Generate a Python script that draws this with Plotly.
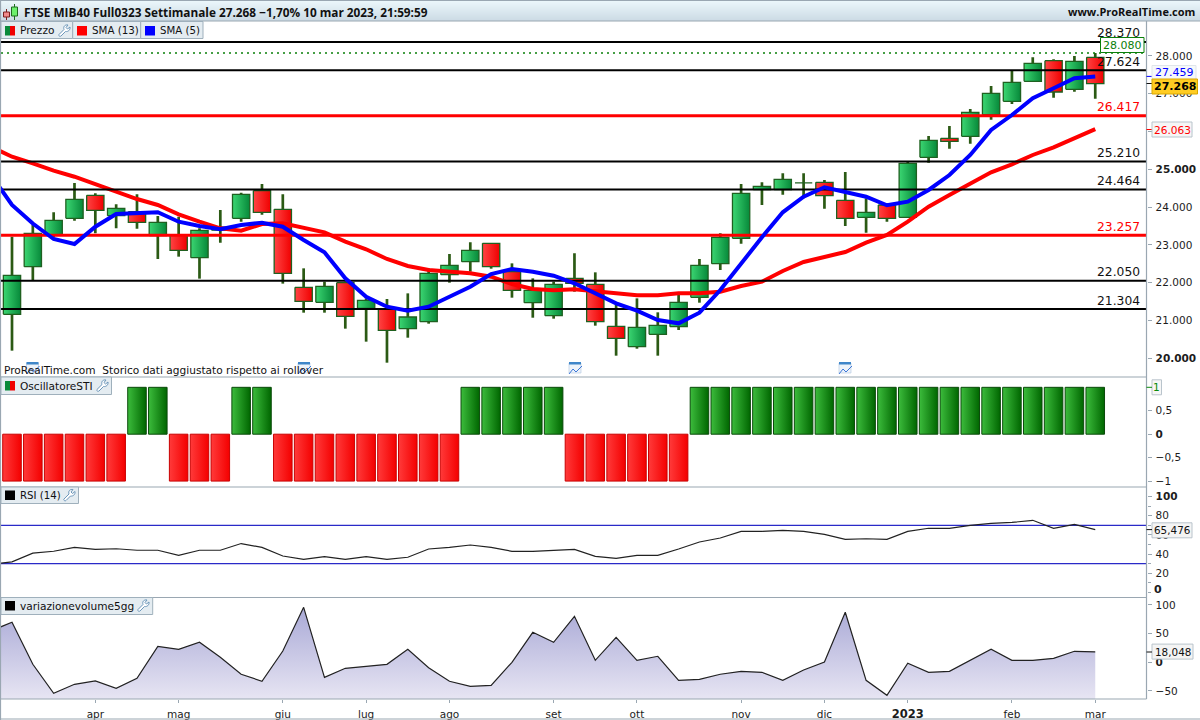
import plotly.graph_objects as go

# ---------- DATA ----------
bars = list(range(53))
opens = [21164,22425,23263,23704,24313,23774,23881,23250,23270,22664,23390,23704,24436,23942,21879,21482,22002,21323,21296,20784,20970,22213,22557,23042,22293,21472,21128,22116,21957,20846,20308,20634,20837,21614,22504,23175,24462,24462,24640,24657,24180,23731,24057,23731,25318,25821,25874,26447,26800,27329,27876,27117,27964]
closes = [22196,23307,23651,24207,23916,23968,23598,23598,22858,23387,23470,24339,23863,22249,21508,21905,21111,21535,20741,21093,22249,22460,22857,22425,21799,21799,21957,21984,20970,20529,20820,20873,21481,22460,23201,24365,24551,24736,24655,24304,23704,23863,23704,25159,25768,25742,26509,27012,27303,27805,27047,27858,27268]
highs = [23219,23528,23863,24639,24365,24074,24339,23766,23748,23440,23925,24383,24612,24339,22381,22028,22028,21588,21570,21719,22381,22760,23069,23042,22513,22116,22028,22778,22275,21411,21587,21217,21720,22628,23307,24612,24656,24895,24895,24718,24930,24233,24100,25204,25883,26147,26597,27206,27603,27964,27911,28000,28080]
lows = [20203,22073,23200,23643,23307,23440,23431,22628,22690,22108,23060,23616,23801,21976,21208,21208,20785,20441,19885,20546,20917,22002,22293,22372,21605,21075,21049,21763,20864,20070,20255,20070,20749,21472,22337,23034,24057,24330,24233,23960,23501,23325,23616,23731,25177,25547,25680,26315,26729,27329,26897,27056,26870]

ma_bars = list(range(-1, 53))
sma13 = [25591,25335,25160,24964,24805,24604,24409,24215,24057,23811,23615,23440,23377,23554,23572,23456,23334,23086,22885,22628,22443,22337,22292,22249,22160,21966,21834,21800,21826,21781,21720,21667,21667,21720,21720,21763,21913,22027,22310,22549,22681,22813,23059,23263,23615,24012,24321,24631,24922,25134,25380,25583,25821,26063]
sma5 = [24850,24057,23567,23157,23025,23483,23819,23853,23864,23615,23501,23414,23528,23588,23483,23131,22805,22117,21630,21366,21260,21366,21630,21895,22231,22363,22292,22186,21985,21720,21456,21260,21014,20926,21207,21808,22514,23202,23864,24276,24525,24409,24276,24049,24144,24454,24850,25380,26041,26438,26880,27145,27409,27459]

black_levels = [28370,27624,25210,24464,22050,21304]
black_level_text = ["28.370","27.624","25.210","24.464","22.050","21.304"]
red_levels = [26417,23257]
red_level_text = ["26.417","23.257"]
dotted_level = 28080

sti = [-1,-1,-1,-1,-1,-1,1,1,-1,-1,-1,1,1,-1,-1,-1,-1,-1,-1,-1,-1,-1,1,1,1,1,1,-1,-1,-1,-1,-1,-1,1,1,1,1,1,1,1,1,1,1,1,1,1,1,1,1,1,1,1,1]
rsi = [29.4,32,41,43,47,45,45.6,44,44,38.7,44,44,51,47,38,34.5,37.3,34.5,37.3,34.6,36.7,45.3,47,49.5,47,42.9,42.9,43.8,45,37.7,35.6,38.7,38.7,45.3,52.6,56.8,63.7,63.7,64.8,63.7,60.6,55.4,56,55.4,63.7,66.9,66.9,70,72,73,75.2,66.9,71,65.476]
rsi_levels = [70,30]
volchg = [55,69.8,-3.5,-54,-38.4,-32.6,-45.4,-27.9,27.9,22.7,34.9,8.7,-20.9,-33,19.7,95.9,-26.2,-10.5,-7,-3.5,22.7,-9.4,-33,-41.9,-40.1,0,52.3,34.9,80.2,3.5,43.6,3.5,10.5,-31.4,-29.7,-20.9,-15.7,-17.4,-31.4,-13.4,0.5,87.2,-31.4,-57.6,-1.7,-17.4,-15.7,3.5,22.7,3.5,3.5,7,19.2,18.048]

month_ticks = [4,8,13,17,21,26,30,35,39,43,48,52]
month_labels = ["apr","mag","giu","lug","ago","set","ott","nov","dic",'<b><span style="font-size:11.5px">2023</span></b>',"feb","mar"]
main_ticks = [28000,27000,26000,25000,24000,23000,22000,21000,20000]
main_labels = ["28.000","27.000","26.000","<b>25.000</b>","24.000","23.000","22.000","21.000","<b>20.000</b>"]
sti_ticks = [0.5,0,-0.5,-1]
sti_labels = ["0,5","<b>0</b>","−0,5","−1"]
rsi_ticks = [100,80,60,40,20]
rsi_labels = ["<b>100</b>","80","60","40","20"]
vol_ticks = [100,50,0,-50]
vol_labels = ["100","50","<b>0</b>","−50"]

# ---------- LAYOUT HELPERS ----------
W, H = 1200, 720
FONT = "DejaVu Sans"
HEAD_FONT = "Open Sans"
X = lambda px: px / W
Y = lambda py: 1 - py / H
XLO, XHI = -0.528, 54.46
DX0, DX1 = 1, 1146.5
FRAME = "#9aa7b2"

fig = go.Figure()

def body(i, a, b, hw, left, right, edge, ya, lw=1.3):
    fig.add_trace(go.Scatter(
        x=[i-hw, i+hw, i+hw, i-hw, i-hw], y=[a, a, b, b, a], mode="lines", xaxis="x", yaxis=ya,
        fill="toself", line=dict(color=edge, width=lw),
        fillgradient=dict(type="horizontal", colorscale=[[0, left], [1, right]]),
        hoverinfo="skip", showlegend=False))

# wicks
wx, wy = [], []
for i, hi, lo in zip(bars, highs, lows):
    wx += [i, i, None]
    wy += [lo, hi, None]
fig.add_trace(go.Scatter(x=wx, y=wy, mode="lines", line=dict(color="#2b5a14", width=2.7),
                         hoverinfo="skip", showlegend=False))
# candle bodies
for i, o, c in zip(bars, opens, closes):
    if c >= o:
        body(i, o, c, 0.415, "#3bd672", "#07893a", "#1f6020", "y")
    else:
        body(i, o, c, 0.415, "#ff4444", "#f00000", "#1f6020", "y")

xspan = [XLO, XHI]
fig.add_trace(go.Scatter(x=ma_bars, y=sma13, mode="lines", line=dict(color="#ff0000", width=4), hoverinfo="skip", showlegend=False))
for v in black_levels:
    fig.add_trace(go.Scatter(x=xspan, y=[v, v], mode="lines", line=dict(color="#000000", width=2), hoverinfo="skip", showlegend=False))
for v in red_levels:
    fig.add_trace(go.Scatter(x=xspan, y=[v, v], mode="lines", line=dict(color="#ff0000", width=3), hoverinfo="skip", showlegend=False))
fig.add_trace(go.Scatter(x=xspan, y=[dotted_level]*2, mode="lines", line=dict(color="#0a800a", width=1.6, dash="2px,4px"), hoverinfo="skip", showlegend=False))
fig.add_trace(go.Scatter(x=ma_bars, y=sma5, mode="lines", line=dict(color="#0000ff", width=4), hoverinfo="skip", showlegend=False))

# oscillator
for i, v in zip(bars, sti):
    if v > 0:
        body(i, 0, v, 0.445, "#3cbc3c", "#006600", "#0b4a0b", "y2", 1)
    else:
        body(i, 0, v, 0.445, "#ff3a3a", "#f40000", "#c80000", "y2", 1)

# RSI
for v in rsi_levels:
    fig.add_trace(go.Scatter(x=xspan, y=[v, v], mode="lines", yaxis="y3", line=dict(color="#2a2ac8", width=1.2), hoverinfo="skip", showlegend=False))
fig.add_trace(go.Scatter(x=ma_bars, y=rsi, mode="lines", yaxis="y3", line=dict(color="#222222", width=1.2), hoverinfo="skip", showlegend=False))

# volume change
VMIN, VMAX = -64.0, 113.0
fig.add_trace(go.Scatter(x=ma_bars, y=[VMIN]*len(ma_bars), mode="lines", yaxis="y4", line=dict(width=0, color="rgba(0,0,0,0)"), hoverinfo="skip", showlegend=False))
fig.add_trace(go.Scatter(x=ma_bars, y=volchg, mode="lines", yaxis="y4", fill="tonexty",
                         fillgradient=dict(type="vertical", start=VMIN, stop=96, colorscale=[[0, "#e7e5f3"], [1, "#a9a9d6"]]),
                         line=dict(color="#222222", width=1.2), hoverinfo="skip", showlegend=False))

# ---------- AXES ----------
def yax(top, bot, rng, vals, text, **kw):
    return dict(domain=[Y(bot), Y(top)], range=rng, side="right", anchor="x", tickmode="array",
                tickvals=vals, ticktext=text, ticks="outside", ticklen=4, tickcolor=FRAME, tickwidth=1,
                tickfont=dict(family=FONT, size=10.5, color="#1c1c1c"), showgrid=False, zeroline=False,
                showline=False, ticklabelstandoff=2, **kw)

xcommon = dict(domain=[X(DX0), X(DX1)], range=[XLO, XHI], showgrid=False, zeroline=False)
fig.update_layout(
    width=W, height=H, autosize=False, margin=dict(l=0, r=0, t=0, b=0),
    paper_bgcolor="white", plot_bgcolor="white", showlegend=False,
    xaxis=dict(**xcommon, anchor="y4", tickmode="array", tickvals=month_ticks, ticktext=month_labels,
               ticks="outside", ticklen=3, tickcolor=FRAME,
               tickfont=dict(family=FONT, size=10.5, color="#1c1c1c"), ticklabelstandoff=2),
    yaxis=yax(21, 377, [19506, 28925], main_ticks, main_labels),
    yaxis2=yax(377, 487, [-1.126, 1.22], sti_ticks, sti_labels),
    yaxis3=yax(487, 597.5, [-5.2, 109.9], rsi_ticks, rsi_labels,
               minor=dict(tickvals=[90, 70, 50, 30, 10, 0], ticks="outside", ticklen=3, tickcolor=FRAME)),
    yaxis4=yax(597.5, 699, [VMIN, VMAX], vol_ticks, vol_labels),
)

shapes, annos = [], []

def rect(x0, y0, x1, y1, fill, line=None, lw=1):
    shapes.append(dict(type="rect", xref="paper", yref="paper", x0=X(x0), x1=X(x1), y0=Y(y0), y1=Y(y1),
                       fillcolor=fill, line=dict(color=line or "rgba(0,0,0,0)", width=lw if line else 0), layer="above"))

def hline(x0, x1, y, color=FRAME, lw=1.2):
    shapes.append(dict(type="line", xref="paper", yref="paper", x0=X(x0), x1=X(x1), y0=Y(y), y1=Y(y),
                       line=dict(color=color, width=lw), layer="above"))

def vline(x, y0, y1, color=FRAME, lw=1.2):
    shapes.append(dict(type="line", xref="paper", yref="paper", x0=X(x), x1=X(x), y0=Y(y0), y1=Y(y1),
                       line=dict(color=color, width=lw), layer="above"))

def text(px, py, s, size=11, color="#111111", anchor="left", bold=False, family=FONT, **kw):
    annos.append(dict(xref="paper", yref="paper", x=X(px), y=Y(py), text=f"<b>{s}</b>" if bold else s,
                      showarrow=False, xanchor=anchor, yanchor="middle", borderpad=0,
                      font=dict(family=family, size=size, color=color), **kw))

def wrench(x, y):
    pts = "M1,10 L6,5 C5,2 7,0 10,.5 L8,3 L9.5,4.5 L12,2.5 C12.5,5.5 10,7.5 7.5,7 L3,11.5 C2,12.5 0,11 1,10 Z"
    out = []
    for tok in pts.split():
        if tok[0] in "MLC":
            cmd, tok = tok[0], tok[1:]
            out.append(cmd)
        if tok == "Z":
            out.append("Z")
            continue
        a, b = tok.split(",")
        out.append(f"{X(x+float(a)):.5f},{Y(y+float(b)):.5f}")
    shapes.append(dict(type="path", xref="paper", yref="paper", path=" ".join(out), fillcolor="white",
                       line=dict(color="#6d97ba", width=1), layer="above"))

# header band
band_top = (236, 247, 251)
band_bot = (204, 219, 229)
for r in range(21):
    t = r / 20
    c = tuple(round(a + (b - a) * t) for a, b in zip(band_top, band_bot))
    rect(0, r, W, r + 1, "rgb(%d,%d,%d)" % c)
hline(0, W, 0.5)
hline(0, W, 21)
text(22.5, 11.5, "FTSE MIB40 Full0323 Settimanale 27.268 −1,70% 10 mar 2023, 21:59:59", size=11.8, bold=True, family=HEAD_FONT)
text(1196, 11.5, "www.ProRealTime.com", size=11, anchor="right", bold=True, family=HEAD_FONT)

# candle logo
vline(6.5, 9, 20, "#7a1f1f", 1)
rect(3.5, 12, 9.5, 17, "#f08a8a", "#7a1f1f", 1)
vline(14.5, 4, 20, "#1f6b1f", 1)
rect(11.5, 7, 17.5, 16, "#6cf06c", "#1f6b1f", 1)

# frame lines
vline(0.5, 0, H)
vline(DX1, 21, 699)
for yy in (377, 487, 597.5, 699):
    hline(0, DX1, yy)
hline(0, W, 719)

# legend tags
TAG = "#e4ecf1"
TAGL = "#9fb0bc"
def swatch(x, y, colors):
    n = len(colors)
    for k, col in enumerate(colors):
        rect(x + 10 * k / n, y, x + 10 * (k + 1) / n, y + 9.5, col)

rect(1, 21.5, 72.7, 38.5, TAG, TAGL)
swatch(5, 26, ["#0a8a3a", "#f00000"])
text(18.5, 30.5, "Prezzo", 10.6)
wrench(58, 24.5)
rect(72.7, 21.5, 140.7, 38.5, TAG, TAGL)
swatch(77, 26, ["#ff0000"])
text(90.5, 30.5, "SMA (13)", 10.3)
rect(140.7, 21.5, 203, 38.5, TAG, TAGL)
swatch(145, 26, ["#0000ff"])
text(158.5, 30.5, "SMA (5)", 10.2)

rect(1, 377, 111.5, 394.5, TAG, TAGL)
swatch(5, 381, ["#0a8a3a", "#f00000"])
text(18.5, 386, "OscillatoreSTI", 10.6)
wrench(96, 379.5)

rect(1, 487, 78.5, 503.5, TAG, TAGL)
swatch(5, 490.5, ["#000000"])
text(18.5, 495.5, "RSI (14)", 10.2)
wrench(63, 489)

rect(1, 597.5, 152.7, 614.5, TAG, TAGL)
swatch(5, 601, ["#000000"])
text(18.5, 606, "variazionevolume5gg", 10.6)
wrench(137, 599.5)

# event icons and note
for ix in (26.5, 298, 569, 839):
    rect(ix, 363, ix + 12, 373, "#eef3fa", "#b9cde4", 0.7)
    rect(ix, 362, ix + 12, 364.5, "#3f86c9")
    shapes.append(dict(type="path", xref="paper", yref="paper", layer="above",
                       path=f"M{X(ix):.5f},{Y(374):.5f} L{X(ix+4):.5f},{Y(369):.5f} L{X(ix+7):.5f},{Y(372):.5f} L{X(ix+13):.5f},{Y(366):.5f}",
                       line=dict(color="#3c78d8", width=1)))
text(2.5, 370.5, "ProRealTime.com  Storico dati aggiustato rispetto ai rollover", 10.6)

# level labels
for v, t in zip(black_levels, black_level_text):
    annos.append(dict(xref="paper", yref="y", x=X(1141), y=v, yshift=8.5, text=t, showarrow=False, xanchor="right", yanchor="middle",
                      borderpad=0, font=dict(family=FONT, size=12.3, color="#111111")))
for v, t in zip(red_levels, red_level_text):
    annos.append(dict(xref="paper", yref="y", x=X(1141), y=v, yshift=8.5, text=t, showarrow=False, xanchor="right", yanchor="middle",
                      borderpad=0, font=dict(family=FONT, size=12.3, color="#ff0000")))

# right-hand value boxes
def vbox(x0, x1, yc, s, color, border, bg, bold=False, size=11):
    rect(x0, yc - 7.5, x1, yc + 7.5, bg, border, 1)
    text((x0 + x1) / 2, yc, s, size, color, anchor="center", bold=bold)

vbox(1100.5, 1144, 45, "28.080", "#0a800a", "#0a800a", "white", size=11)
hline(1146.5, 1152, 76.4, "#0000ff", 1)
vbox(1152, 1196, 73, "27.459", "#0000ff", "#dfe5ea", "#f6f8fa", size=11)
hline(1146.5, 1152, 83.5, "#111111", 1)
vbox(1152, 1197.5, 86.5, "27.268", "#000000", "#d9a800", "#ffcc22", bold=True, size=11)
hline(1146.5, 1152, 129.5, "#ff0000", 1)
vbox(1152, 1192, 129.5, "26.063", "#ff0000", "#b9c4cc", "#f6f6f6", size=10.6)
vbox(1152, 1161.5, 387.3, "1", "#0a8a0a", "#b9c4cc", "#f6f6f6", size=10.6)
hline(1146.5, 1152, 387.3, "#0a8a0a", 1)
vbox(1152, 1192, 530.3, "65,476", "#111111", "#b9c4cc", "#f4f4f4", size=10.4)
hline(1146.5, 1152, 529.6, "#111111", 1)
vbox(1152, 1193, 651.6, "18,048", "#111111", "#b9c4cc", "#f4f4f4", size=10.4)
hline(1146.5, 1152, 652, "#111111", 1)
text(1153, 589.7, "0", 11, "#1c1c1c", bold=True)

fig.update_layout(shapes=shapes, annotations=annos)

fig.write_html("out.html", config=dict(displayModeBar=False),
               post_script="document.body.style.margin='0';document.body.style.overflow='hidden';")
